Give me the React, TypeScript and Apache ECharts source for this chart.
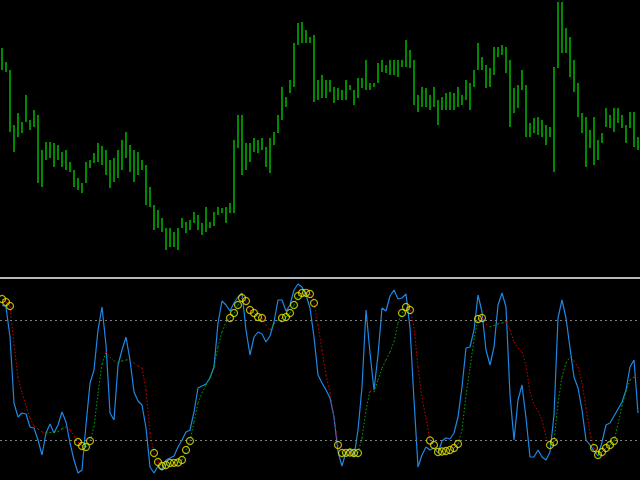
import React, { useEffect, useRef } from "react";
import * as echarts from "echarts";

// Price bars (top pane): high / low per bar, in price units
const barHigh = [
  252, 238, 230, 175, 187, 178, 205, 180, 190, 185,
  150, 158, 158, 157, 155, 148, 150, 138, 130, 122,
  117, 138, 140, 147, 157, 154, 150, 140, 142, 150,
  160, 168, 155, 150, 148, 140, 135, 113, 95, 90,
  82, 72, 72, 68, 72, 82, 78, 80, 88, 85,
  77, 93, 78, 88, 93, 92, 93, 97, 160, 185,
  185, 157, 157, 162, 160, 162, 153, 162, 168, 185,
  213, 203, 220, 257, 277, 278, 270, 263, 265, 220,
  225, 220, 220, 213, 212, 210, 220, 215, 210, 222,
  222, 240, 217, 217, 237, 240, 235, 240, 240, 240,
  240, 260, 250, 240, 205, 213, 212, 205, 213, 200,
  203, 207, 208, 207, 213, 205, 220, 217, 230, 257,
  243, 235, 232, 253, 253, 255, 253, 240, 212, 215,
  230, 215, 177, 182, 183, 180, 175, 173, 233, 298,
  298, 272, 263, 240, 217, 187, 183, 170, 183, 160,
  167, 192, 185, 192, 192, 185, 175, 188, 188, 163,
];
const barLow = [
  230, 228, 168, 148, 163, 167, 178, 170, 173, 117,
  113, 140, 142, 133, 140, 133, 130, 128, 113, 110,
  107, 117, 132, 137, 138, 135, 125, 112, 118, 122,
  130, 142, 128, 118, 125, 130, 95, 93, 70, 72,
  68, 50, 53, 53, 50, 72, 67, 70, 77, 70,
  65, 68, 72, 74, 85, 87, 77, 87, 87, 152,
  125, 130, 138, 148, 147, 150, 133, 127, 155, 167,
  180, 193, 207, 213, 255, 257, 257, 257, 198, 200,
  202, 202, 208, 197, 200, 200, 200, 210, 195, 202,
  212, 210, 210, 213, 217, 228, 227, 225, 225, 223,
  233, 233, 232, 195, 188, 193, 193, 190, 193, 175,
  190, 190, 190, 190, 193, 195, 200, 190, 213, 230,
  230, 212, 213, 225, 243, 245, 227, 173, 187, 192,
  210, 163, 163, 167, 165, 163, 155, 163, 128, 232,
  247, 247, 223, 208, 183, 167, 133, 152, 135, 140,
  157, 173, 172, 168, 177, 172, 157, 172, 153, 150,
];

// Oscillator (bottom pane), 0..100
const mainLine = [
  87.5, 86.5, 71.5, 38.5, 31.5, 33.5, 33, 26.5, 26, 20,
  12.5, 23.5, 28, 23.5, 27.5, 34, 29, 18.5, 10, 3.5,
  5, 27.5, 48.5, 55, 75, 86.5, 67.5, 33.5, 30, 57.5,
  65, 71.5, 60, 44, 39.5, 37.5, 26, 6.5, 3.5, 7,
  5, 10, 11, 12, 16.5, 20, 24, 25, 34, 46,
  47, 48, 51, 56.5, 78.5, 89.5, 87.5, 84.5, 88.5, 91.5,
  93.5, 75, 62.5, 71.5, 74, 73, 69, 72, 79, 90,
  90, 84.5, 87.5, 95, 98, 96.5, 92.5, 86, 71.5, 52.5,
  48.5, 45, 41, 31.5, 14, 7, 14, 15.5, 11.5, 25,
  46.5, 85, 63.5, 45, 62.5, 86, 84.5, 92, 95, 90.5,
  91, 93, 76, 40, 6.5, 12.5, 16.5, 15, 16, 13.5,
  19.5, 21, 20.5, 23.5, 31.5, 46.5, 66, 66.5, 75, 92.5,
  84, 65, 57.5, 66.5, 87.5, 93.5, 86.5, 42.5, 20, 40,
  47.5, 31, 11.5, 11.5, 15, 11.5, 10, 14, 32.5, 81,
  90, 81, 66, 51.5, 46, 35, 20, 17.5, 14.5, 12,
  19, 27.5, 28.5, 32, 35.5, 39, 45, 56.5, 60, 33.5,
];
const signalLine = [
  90.5, 89, 87, 67.5, 51.5, 43.5, 37, 31, 27, 25.5,
  24, 23.5, 23.8, 24, 24.2, 25.5, 26.5, 25, 22, 19,
  17, 16.5, 19.5, 26.5, 43.5, 58, 64, 61.5, 59.5, 58.5,
  59.5, 60, 60.3, 58.5, 57, 56, 45, 23.5, 13.5, 9,
  7, 7.5, 8.5, 8.6, 8.75, 10, 15, 19.5, 29, 38.5,
  43.5, 47.5, 51.5, 57, 66.5, 74, 79, 81, 83.5, 87.5,
  91, 89.5, 85, 83.5, 81.5, 81, 77.5, 75, 78, 79.75,
  81, 81.5, 83.5, 87.5, 92, 93.5, 93.6, 93, 88.5, 77.5,
  65, 52.5, 43.5, 31.5, 17.5, 13.5, 13.6, 13.75, 13.5, 13.5,
  21, 35, 44.5, 44, 50, 56, 60, 64, 69, 78.5,
  83.5, 86.5, 85, 76.5, 56.5, 41, 31, 19.75, 17.5, 14,
  14.25, 14.5, 15, 16, 18, 25, 42.5, 56, 70, 80.5,
  81, 78, 76.5, 77.25, 78, 78.5, 79, 75, 69, 66,
  64, 57.5, 44, 37.5, 34.5, 30, 21.5, 17.5, 19, 38.5,
  51.5, 58.5, 61.5, 59.5, 56.5, 48.5, 36, 23.5, 16, 12.5,
  14, 16, 17.5, 19.5, 28, 37, 44.5, 50, 51.5, 51.25,
];
const levels = [80, 20];

export default function App() {
  const ref = useRef<HTMLDivElement>(null);
  useEffect(() => {
    if (!ref.current) return;
    const chart = echarts.init(ref.current, null, { renderer: "svg" });
    const cats = barHigh.map((_, i) => String(i));
    const barData = barHigh.map((h, i) => [i, h, barLow[i]]);
    const segData = signalLine.slice(0, -1).map((v, i) => [i, v, signalLine[i + 1]]);
    const dots = signalLine
      .map((v, i) => [i, v])
      .filter(([, v]) => v > levels[0] || v < levels[1]);

    chart.setOption({
      animation: false,
      backgroundColor: "#000000",
      grid: [
        { left: 0, right: 0, top: 0, height: 278 },
        { left: 0, right: 0, top: 280, height: 200 },
      ],
      xAxis: [
        { type: "category", data: cats, gridIndex: 0, show: false, boundaryGap: true },
        { type: "category", data: cats, gridIndex: 1, show: false, boundaryGap: true },
      ],
      yAxis: [
        { type: "value", gridIndex: 0, min: 22, max: 300, show: false, splitLine: { show: false } },
        { type: "value", gridIndex: 1, min: 0, max: 100, show: false, splitLine: { show: false } },
      ],
      graphic: [
        {
          type: "rect",
          left: 0,
          top: 277,
          shape: { x: 0, y: 0, width: 640, height: 2 },
          style: { fill: "#b8b8b8" },
          silent: true,
        },
      ],
      series: [
        {
          type: "custom",
          xAxisIndex: 0,
          yAxisIndex: 0,
          data: barData,
          encode: { x: 0, y: [1, 2] },
          renderItem: (params: any, api: any) => {
            const x = api.value(0);
            const p1 = api.coord([x, api.value(1)]);
            const p2 = api.coord([x, api.value(2)]);
            return {
              type: "line",
              shape: { x1: p1[0], y1: p1[1], x2: p2[0], y2: p2[1] },
              style: { stroke: "#00b800", lineWidth: 1.5 },
            };
          },
        },
        {
          type: "line",
          xAxisIndex: 1,
          yAxisIndex: 1,
          data: mainLine,
          symbol: "none",
          lineStyle: { color: "#1e88e5", width: 1.2 },
          z: 3,
          markLine: {
            silent: true,
            symbol: "none",
            label: { show: false },
            lineStyle: { color: "#808080", type: [2, 3], width: 1 },
            data: levels.map((v) => ({ yAxis: v })),
          },
        },
        {
          type: "custom",
          xAxisIndex: 1,
          yAxisIndex: 1,
          data: segData,
          encode: { x: 0, y: [1, 2] },
          z: 4,
          renderItem: (params: any, api: any) => {
            const i = api.value(0);
            const a = api.value(1);
            const b = api.value(2);
            const p1 = api.coord([i, a]);
            const p2 = api.coord([i + 1, b]);
            return {
              type: "line",
              shape: { x1: p1[0], y1: p1[1], x2: p2[0], y2: p2[1] },
              style: {
                stroke: b < a ? "#d00000" : "#00a800",
                lineWidth: 1,
                lineDash: [1.5, 2],
              },
            };
          },
        },
        {
          type: "scatter",
          xAxisIndex: 1,
          yAxisIndex: 1,
          data: dots,
          symbol: "circle",
          symbolSize: 7,
          z: 5,
          itemStyle: { color: "rgba(0,0,0,0)", borderColor: "#e6e600", borderWidth: 1.2 },
        },
      ],
    });
    return () => chart.dispose();
  }, []);
  return (
    <div
      ref={ref}
      style={{ position: "fixed", left: 0, top: 0, width: 640, height: 480, background: "#000" }}
    />
  );
}
